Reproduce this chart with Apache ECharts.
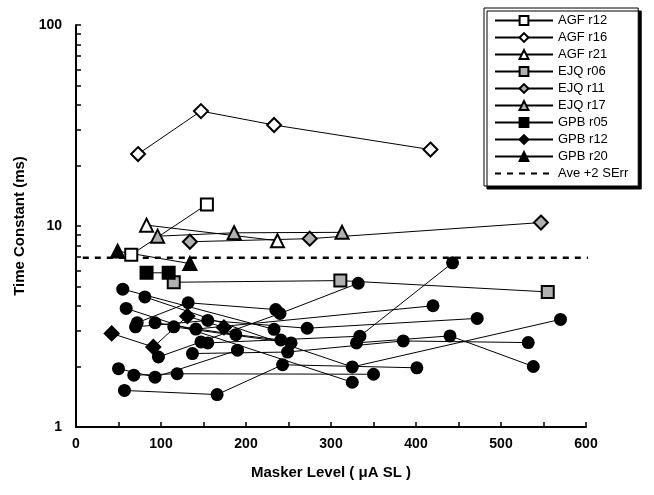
<!DOCTYPE html>
<html>
<head>
<meta charset="utf-8">
<script src="https://cdn.jsdelivr.net/npm/echarts@6/dist/echarts.min.js"></script>
<style>
  html, body { margin: 0; padding: 0; background: #fff; }
  #chart { width: 654px; height: 495px; }
</style>
</head>
<body>
<div id="chart"></div>
<script>
// values: [masker level (uA SL), time constant (ms)]
const agfR12 = [[65, 7.2], [154, 12.8]]
const agfR16 = [[73, 22.8], [147, 37.3], [233, 31.8], [417, 24]]
const agfR21 = [[83, 10.1], [237, 8.45]]
const ejqR06 = [[115, 5.25], [311, 5.35], [555, 4.7]]
const ejqR11 = [[134, 8.35], [275, 8.65], [547, 10.4]]
const ejqR17 = [[96, 8.9], [186, 9.25], [313, 9.3]]
const gpbR05 = [[83, 5.85], [109, 5.85]]
const gpbR12 = [[42, 2.92], [91, 2.5], [131, 3.56], [174, 3.13]]
const gpbR20 = [[49, 7.5], [134, 6.5]]
const aveLevel = 6.95
const aveSpan = [8, 608]

// unlabelled filled-circle runs
const otherRuns = [
  [[55, 4.85], [233, 3.06]],
  [[81, 4.44], [325, 1.99], [570, 3.43]],
  [[59, 3.89], [325, 1.67]],
  [[72, 3.3], [132, 4.15], [235, 3.84]],
  [[70, 3.15], [155, 3.39], [272, 3.1], [472, 3.47]],
  [[93, 3.3], [188, 2.88], [241, 2.71]],
  [[115, 3.15], [253, 2.62]],
  [[141, 3.07], [420, 4.01]],
  [[97, 2.23], [147, 2.65], [240, 3.67], [332, 5.19]],
  [[155, 2.62], [334, 2.83], [443, 6.56]],
  [[137, 2.32], [249, 2.36], [385, 2.68], [532, 2.63]],
  [[50, 1.95], [93, 1.77], [190, 2.41]],
  [[68, 1.81], [119, 1.84], [350, 1.83]],
  [[57, 1.52], [166, 1.45], [243, 2.04], [401, 1.97]],
  [[330, 2.62], [440, 2.84], [538, 2.0]]
]

const xLabels = [0, 100, 200, 300, 400, 500, 600]
const xTicks = [0, 50, 100, 150, 200, 250, 300, 350, 400, 450, 500, 550, 600]
const yLabels = [1, 10, 100]
const yTicks = [1, 2, 3, 4, 5, 6, 7, 8, 9, 10, 20, 30, 40, 50, 60, 70, 80, 90, 100]

const font = 'Liberation Sans, Arial, sans-serif'
const myChart = echarts.init(document.getElementById('chart'))

function marked(name, data, symbol, fill, size) {
  return {
    name: name,
    type: 'line',
    data: data,
    symbol: symbol,
    symbolSize: size,
    z: 3,
    lineStyle: { color: '#000', width: 1 },
    itemStyle: { color: fill, borderColor: '#000', borderWidth: 2 },
    emphasis: { disabled: true },
    animation: false
  }
}

const series = [
  marked('AGF r12', agfR12, 'rect', '#fff', 12),
  marked('AGF r16', agfR16, 'diamond', '#fff', 14),
  marked('AGF r21', agfR21, 'triangle', '#fff', 13),
  marked('EJQ r06', ejqR06, 'rect', '#b0b0b0', 12),
  marked('EJQ r11', ejqR11, 'diamond', '#b0b0b0', 14),
  marked('EJQ r17', ejqR17, 'triangle', '#b0b0b0', 13),
  marked('GPB r05', gpbR05, 'rect', '#000', 12),
  marked('GPB r12', gpbR12, 'diamond', '#000', 14),
  marked('GPB r20', gpbR20, 'triangle', '#000', 13),
  {
    name: 'Ave +2 SErr',
    type: 'line',
    data: aveSpan.map(x => [x, aveLevel]),
    symbol: 'circle',
    showSymbol: false,
    clip: false,
    z: 2,
    lineStyle: { color: '#000', width: 2.5, type: [6, 6] },
    itemStyle: { color: 'rgba(0,0,0,0)', borderWidth: 0 },
    emphasis: { disabled: true },
    animation: false
  }
]

otherRuns.forEach(run => {
  series.push({
    type: 'line',
    data: run,
    symbol: 'circle',
    symbolSize: 13,
    z: 4,
    lineStyle: { color: '#000', width: 1 },
    itemStyle: { color: '#000' },
    emphasis: { disabled: true },
    animation: false
  })
})

myChart.setOption({
  backgroundColor: '#fff',
  animation: false,
  grid: { left: 76, right: 68, top: 25, bottom: 68 },
  legend: {
    data: series.filter(s => s.name).map(s => s.name),
    orient: 'vertical',
    left: 484,
    top: 8,
    padding: [5, 10, 5, 10],
    itemWidth: 58,
    itemHeight: 11,
    itemGap: 2,
    backgroundColor: '#fff',
    borderColor: '#000',
    borderWidth: 1,
    shadowColor: '#000',
    shadowOffsetX: 3,
    shadowOffsetY: 3,
    shadowBlur: 0,
    textStyle: { fontFamily: font, fontSize: 13, lineHeight: 15, color: '#000' }
  },
  xAxis: {
    type: 'value',
    min: 0,
    max: 600,
    interval: 100,
    name: 'Masker Level ( \u03bcA SL )',
    nameLocation: 'middle',
    nameGap: 38,
    nameTextStyle: { fontFamily: font, fontSize: 15, fontWeight: 'bold', color: '#000' },
    axisLine: { lineStyle: { color: '#000', width: 2 } },
    axisTick: { inside: true, length: 5, customValues: xTicks, lineStyle: { color: '#000', width: 1.5 } },
    axisLabel: { customValues: xLabels, fontFamily: font, fontSize: 14, fontWeight: 'bold', color: '#000', margin: 10 },
    splitLine: { show: false }
  },
  yAxis: {
    type: 'log',
    logBase: 10,
    min: 1,
    max: 100,
    name: 'Time Constant (ms)',
    nameLocation: 'middle',
    nameGap: 48,
    nameTextStyle: { fontFamily: font, fontSize: 15, fontWeight: 'bold', color: '#000' },
    axisLine: { lineStyle: { color: '#000', width: 2 } },
    axisTick: { inside: true, length: 5, customValues: yTicks, lineStyle: { color: '#000', width: 1.5 } },
    axisLabel: { customValues: yLabels, fontFamily: font, fontSize: 14, fontWeight: 'bold', color: '#000', margin: 14 },
    splitLine: { show: false }
  },
  series: series
})
</script>
</body>
</html>
